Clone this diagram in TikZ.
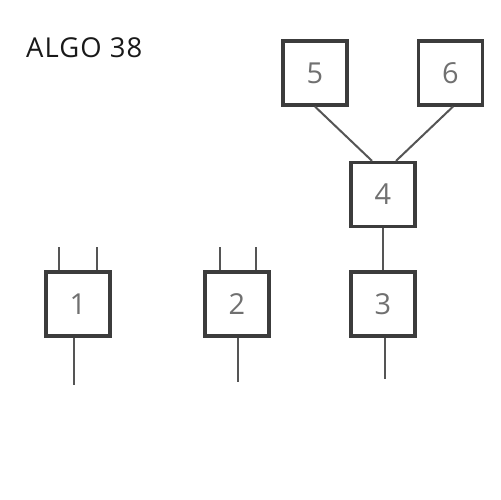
\documentclass[tikz,border=0pt]{standalone}
\usepackage{fontspec}
\setmainfont{Open Sans}
\newfontfamily\titlefont[LetterSpace=4]{Open Sans}
\definecolor{boxline}{HTML}{3C3C3C}
\definecolor{wire}{HTML}{555555}
\definecolor{digit}{HTML}{707070}
\tikzset{
  blk/.style={draw=boxline, line width=3.2bp, minimum size=64bp, inner sep=0pt, fill=white,
    font=\fontsize{29}{29}\selectfont, text=digit},
  wireline/.style={draw=wire, line width=2bp},
}
\begin{document}
\begin{tikzpicture}[x=1bp,y=-1bp]
\useasboundingbox (0,0) rectangle (500,500);
\node[anchor=west, inner sep=0pt, font=\titlefont\fontsize{27.5}{27.5}\selectfont, text=black!90] (title) at (26,48) {ALGO 38};
% boxes
\node[blk] (b5) at (315,73) {5};
\node[blk] (b6) at (450.5,73) {6};
\node[blk] (b4) at (383,194.5) {4};
\node[blk] (b1) at (78,304) {1};
\node[blk] (b2) at (237,304) {2};
\node[blk] (b3) at (383,304) {3};
% free pin ends
\coordinate (p1a) at (59,247);
\coordinate (p1b) at (97,247);
\coordinate (p1c) at (74,385);
\coordinate (p2a) at (220,247);
\coordinate (p2b) at (256,247);
\coordinate (p2c) at (238,382);
\coordinate (p3c) at (385,379);
% connectors
\draw[wireline] (b5.south) -- ([xshift=-11bp]b4.north);
\draw[wireline] ([xshift=2.5bp]b6.south) -- ([xshift=13bp]b4.north);
\draw[wireline] (b4.south) -- (b3.north);
\draw[wireline] (p1a) -- (p1a |- b1.north);
\draw[wireline] (p1b) -- (p1b |- b1.north);
\draw[wireline] (p1c |- b1.south) -- (p1c);
\draw[wireline] (p2a) -- (p2a |- b2.north);
\draw[wireline] (p2b) -- (p2b |- b2.north);
\draw[wireline] (p2c |- b2.south) -- (p2c);
\draw[wireline] (p3c |- b3.south) -- (p3c);
\end{tikzpicture}
\end{document}
